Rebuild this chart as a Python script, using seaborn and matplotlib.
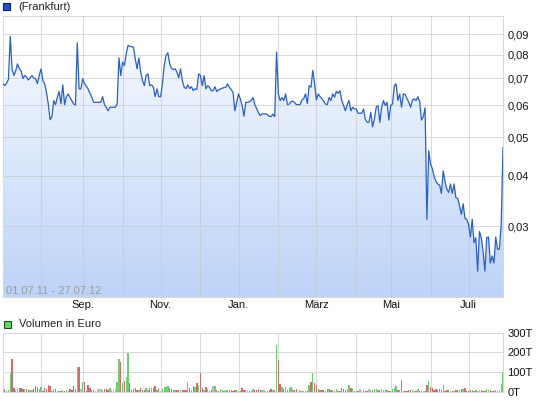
# %%
import numpy as np
import pandas as pd
import matplotlib
matplotlib.use("Agg")
import matplotlib.pyplot as plt
import matplotlib.ticker as mticker
from matplotlib.patches import Rectangle
import seaborn as sns

# Frankfurt trading days 01.07.11 - 27.07.12 (exchange holidays removed)
holidays = ["2011-12-26", "2012-04-06", "2012-04-09", "2012-05-01"]

# closing price in euro, one per trading day
price = [
    0.0678, 0.0671, 0.0681, 0.0695, 0.0890, 0.0739, 0.0711, 0.0730, 0.0760, 0.0739,
    0.0730, 0.0699, 0.0711, 0.0705, 0.0693, 0.0703, 0.0711, 0.0701, 0.0698, 0.0679,
    0.0711, 0.0739, 0.0691, 0.0678, 0.0645, 0.0604, 0.0552, 0.0562, 0.0616, 0.0602,
    0.0628, 0.0649, 0.0605, 0.0674, 0.0602, 0.0630, 0.0640, 0.0627, 0.0616, 0.0604,
    0.0601, 0.0858, 0.0659, 0.0659, 0.0698, 0.0679, 0.0669, 0.0658, 0.0643, 0.0628,
    0.0610, 0.0610, 0.0610, 0.0610, 0.0610, 0.0630, 0.0602, 0.0592, 0.0581, 0.0593,
    0.0593, 0.0593, 0.0593, 0.0604, 0.0787, 0.0711, 0.0768, 0.0753, 0.0805, 0.0845,
    0.0840, 0.0839, 0.0837, 0.0783, 0.0739, 0.0787, 0.0725, 0.0691, 0.0671, 0.0711,
    0.0718, 0.0671, 0.0674, 0.0665, 0.0630, 0.0659, 0.0630, 0.0630, 0.0679, 0.0753,
    0.0798, 0.0810, 0.0762, 0.0740, 0.0736, 0.0739, 0.0725, 0.0702, 0.0739, 0.0691,
    0.0665, 0.0660, 0.0674, 0.0660, 0.0667, 0.0652, 0.0659, 0.0656, 0.0718, 0.0711,
    0.0671, 0.0711, 0.0659, 0.0671, 0.0665, 0.0652, 0.0652, 0.0667, 0.0649, 0.0655,
    0.0658, 0.0661, 0.0664, 0.0665, 0.0678, 0.0664, 0.0656, 0.0645, 0.0581, 0.0610,
    0.0640, 0.0622, 0.0599, 0.0563, 0.0610, 0.0610, 0.0612, 0.0616, 0.0627, 0.0602,
    0.0588, 0.0575, 0.0565, 0.0571, 0.0571, 0.0571, 0.0568, 0.0563, 0.0562, 0.0570,
    0.0562, 0.0813, 0.0640, 0.0616, 0.0627, 0.0616, 0.0640, 0.0602, 0.0604, 0.0612,
    0.0614, 0.0609, 0.0602, 0.0602, 0.0602, 0.0618, 0.0623, 0.0640, 0.0606, 0.0671,
    0.0665, 0.0732, 0.0678, 0.0618, 0.0640, 0.0630, 0.0623, 0.0614, 0.0604, 0.0602,
    0.0627, 0.0616, 0.0640, 0.0628, 0.0650, 0.0642, 0.0652, 0.0616, 0.0599, 0.0581,
    0.0602, 0.0616, 0.0581, 0.0593, 0.0587, 0.0587, 0.0573, 0.0573, 0.0573, 0.0587,
    0.0554, 0.0544, 0.0544, 0.0576, 0.0530, 0.0554, 0.0593, 0.0599, 0.0544, 0.0592,
    0.0616, 0.0599, 0.0610, 0.0551, 0.0599, 0.0604, 0.0671, 0.0678, 0.0616, 0.0640,
    0.0593, 0.0640, 0.0638, 0.0623, 0.0610, 0.0593, 0.0618, 0.0622, 0.0616, 0.0630,
    0.0613, 0.0551, 0.0562, 0.0591, 0.0312, 0.0462, 0.0428, 0.0417, 0.0398, 0.0388,
    0.0382, 0.0380, 0.0362, 0.0412, 0.0387, 0.0371, 0.0364, 0.0382, 0.0362, 0.0382,
    0.0353, 0.0352, 0.0337, 0.0321, 0.0341, 0.0314, 0.0312, 0.0303, 0.0282, 0.0312,
    0.0273, 0.0281, 0.0232, 0.0291, 0.0281, 0.0260, 0.0232, 0.0281, 0.0282, 0.0243,
    0.0253, 0.0243, 0.0282, 0.0263, 0.0263, 0.0303, 0.0471,
]

# turnover in thousand euro
volume = [
    8, 14, 4, 8, 98, 168, 19, 10, 14, 19,
    19, 14, 15, 14, 8, 10, 12, 14, 30, 25,
    14, 25, 6, 18, 14, 35, 30, 5, 14, 14,
    5, 5, 5, 12, 6, 8, 4, 14, 10, 30,
    14, 127, 127, 14, 51, 51, 5, 36, 20, 10,
    10, 5, 14, 14, 14, 10, 14, 14, 10, 18,
    10, 10, 14, 50, 168, 153, 47, 56, 76, 198,
    47, 8, 14, 18, 12, 12, 18, 10, 10, 18,
    12, 18, 20, 18, 30, 8, 14, 5, 14, 25,
    27, 30, 20, 14, 10, 10, 8, 10, 12, 10,
    8, 10, 50, 18, 8, 30, 25, 44, 36, 98,
    18, 10, 25, 14, 5, 10, 30, 30, 8, 5,
    14, 8, 5, 10, 8, 8, 8, 5, 8, 8,
    5, 4, 18, 8, 8, 8, 4, 5, 14, 10,
    10, 14, 10, 8, 10, 5, 5, 10, 14, 10,
    10, 238, 163, 39, 25, 14, 25, 10, 18, 25,
    10, 10, 14, 5, 10, 5, 5, 5, 5, 36,
    50, 98, 44, 36, 14, 10, 10, 8, 5, 14,
    14, 10, 10, 5, 14, 5, 5, 18, 14, 10,
    14, 36, 18, 18, 5, 5, 5, 14, 5, 8,
    5, 5, 14, 10, 10, 14, 14, 10, 10, 14,
    10, 8, 10, 4, 5, 14, 18, 30, 10, 10,
    61, 5, 5, 5, 10, 10, 10, 5, 5, 14,
    5, 5, 5, 5, 36, 56, 25, 18, 10, 14,
    10, 14, 10, 36, 5, 10, 10, 5, 5, 5,
    8, 10, 10, 14, 14, 18, 5, 5, 10, 10,
    5, 10, 5, 8, 8, 5, 5, 14, 10, 8,
    5, 5, 8, 5, 8, 39, 100,
]

month_labels = ["", "Sep.", "", "Nov.", "", "Jan.", "", "März", "", "Mai", "", "Juli"]
price_ticks = [0.03, 0.04, 0.05, 0.06, 0.07, 0.08, 0.09]
volume_ticks = [0, 100, 200, 300]
volume_labels = ["0T", "100T", "200T", "300T"]

# %%
days = pd.bdate_range("2011-07-01", "2012-07-27")
days = days[~days.isin(pd.to_datetime(holidays))]
n = len(days)
df = pd.DataFrame({"pos": np.arange(n), "price": price, "vol": volume})
step = np.sign(df["price"].diff().fillna(0))
df["dir"] = step.map({1.0: "up", -1.0: "down", 0.0: "flat"})
mon = np.asarray(days.month)
month_pos = np.flatnonzero(mon[1:] != mon[:-1]) + 1

sns.set_theme(style="white")
plt.rcParams["font.family"] = ["Liberation Sans", "DejaVu Sans"]

W, H = 545, 401
fig = plt.figure(figsize=(W / 100, H / 100), dpi=100)
ax1 = fig.add_axes([3 / W, 1 - 297 / H, 500 / W, 281 / H])
ax2 = fig.add_axes([3 / W, 1 - 392 / H, 500 / W, 59.3 / H])

grid_kw = dict(color="#c4c4c4", alpha=0.6, linewidth=0.72, snap=True)
fs = 8

# %% price panel
ax1.set_yscale("log")
ax1.set_xlim(0, n - 1)
ax1.set_ylim(0.02, 0.1)

top = np.array([250, 252, 255]) / 255
bot = np.array([189, 211, 247]) / 255
t = np.linspace(0, 1, 256)[:, None]
grad = (top * (1 - t) + bot * t)[:, None, :]
im = ax1.imshow(grad, extent=(0, 1, 0, 1), transform=ax1.transAxes,
                aspect="auto", zorder=1, interpolation="bilinear")
area = ax1.fill_between(df["pos"], df["price"], 0.02, color="none", linewidth=0)
im.set_clip_path(area.get_paths()[0], transform=ax1.transData)

sns.lineplot(data=df, x="pos", y="price", ax=ax1, color="#2a5fc6",
             linewidth=0.9, zorder=3)
ax1.set_xlim(0, n - 1)
ax1.set_ylim(0.02, 0.1)

ax1.yaxis.set_major_locator(mticker.FixedLocator(price_ticks))
ax1.yaxis.set_minor_locator(mticker.NullLocator())
ax1.yaxis.set_major_formatter(
    mticker.FuncFormatter(lambda v, p: f"{v:.2f}".replace(".", ",")))
ax1.yaxis.tick_right()
ax1.set_xticks(month_pos)
ax1.set_xticklabels(month_labels)
ax1.set_axisbelow(False)
ax1.grid(True, **grid_kw)
ax1.tick_params(length=0, labelsize=fs, colors="#111111", pad=2.5)
ax1.tick_params(axis="y", pad=3)
ax1.set_xlabel("")
ax1.set_ylabel("")

fig.text(6 / W, 1 - 291 / H, "01.07.11 - 27.07.12", color="#9c9c9c",
         fontsize=fs, va="center", ha="left")

# %% volume panel
pal = {"up": "#5fdc5f", "down": "#e05c5c", "flat": "#bbbbbb"}
sns.barplot(data=df, x="pos", y="vol", hue="dir", palette=pal, dodge=False,
            width=0.75, errorbar=None, legend=False, native_scale=True, ax=ax2,
            linewidth=0, zorder=3)
for bar in ax2.patches:
    bar.set_antialiased(False)
ax2.set_xlim(0, n - 1)
ax2.set_ylim(0, 300)
ax2.set_yticks(volume_ticks)
ax2.set_yticklabels(volume_labels)
ax2.yaxis.tick_right()
ax2.set_xticks(month_pos)
ax2.set_xticklabels([])
ax2.set_axisbelow(True)
ax2.grid(True, **grid_kw)
ax2.tick_params(length=0, labelsize=fs, colors="#111111", pad=3)
ax2.set_xlabel("")
ax2.set_ylabel("")

for ax in (ax1, ax2):
    for s in ax.spines.values():
        s.set_color("#d8d8d8")
        s.set_linewidth(0.72)

# legend squares
fig.add_artist(Rectangle((3 / W, 1 - 10 / H), 7 / W, 7 / H, transform=fig.transFigure,
                         facecolor="#1f55c8", edgecolor="#0d2250", linewidth=0.8))
fig.text(18 / W, 1 - 6.5 / H, "(Frankfurt)", fontsize=fs, va="center", color="#222222")
fig.add_artist(Rectangle((3.5 / W, 1 - 327.5 / H), 7 / W, 7 / H, transform=fig.transFigure,
                         facecolor="#5fdc5f", edgecolor="#1d4d1d", linewidth=0.8))
fig.text(19 / W, 1 - 324 / H, "Volumen in Euro", fontsize=fs, va="center", color="#222222")

fig.savefig("out.png", dpi=100)
